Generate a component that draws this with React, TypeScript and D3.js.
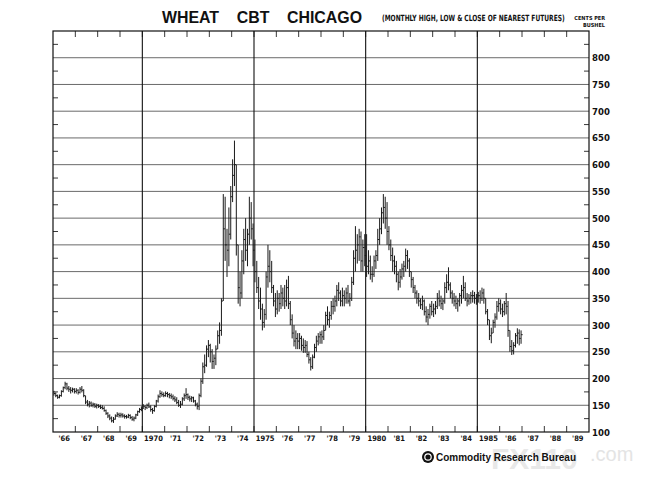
import { useEffect, useRef } from 'react';
import * as d3 from 'd3';

// [high, low, close] per month, cents per bushel
type Bar = [number, number, number];

const wheat1966: Bar[] = [
  [177, 168, 172], [174, 165, 168], [170, 162, 165], [170, 163, 168], [178, 166, 176], [185, 174, 183],
  [194, 180, 190], [192, 178, 182], [186, 175, 180], [184, 172, 178], [183, 174, 180], [182, 172, 176],
];
const wheat1967: Bar[] = [
  [182, 172, 178], [180, 170, 174], [184, 172, 180], [186, 174, 178], [180, 165, 168], [168, 152, 156],
  [160, 148, 152], [158, 146, 154], [157, 147, 150], [155, 146, 152], [154, 145, 148], [153, 144, 150],
];
const wheat1968: Bar[] = [
  [152, 145, 148], [151, 143, 146], [150, 142, 144], [148, 138, 140], [142, 132, 135], [137, 126, 130],
  [133, 122, 126], [129, 118, 121], [128, 117, 124], [133, 123, 130], [137, 128, 133], [136, 127, 131],
];
const wheat1969: Bar[] = [
  [136, 127, 132], [135, 127, 130], [133, 125, 129], [132, 125, 128], [134, 126, 131], [133, 124, 127],
  [130, 121, 124], [129, 120, 126], [134, 124, 132], [140, 130, 138], [145, 136, 142], [148, 139, 144],
];
const wheat1970: Bar[] = [
  [152, 143, 148], [150, 141, 146], [153, 143, 150], [155, 145, 147], [150, 138, 142], [145, 134, 140],
  [150, 138, 148], [160, 146, 158], [170, 155, 166], [178, 164, 172], [176, 166, 170], [174, 165, 168],
];
const wheat1971: Bar[] = [
  [176, 166, 172], [175, 165, 170], [173, 163, 168], [172, 162, 166], [170, 159, 163], [167, 156, 160],
  [165, 152, 155], [160, 147, 150], [158, 145, 152], [165, 150, 162], [172, 158, 168], [182, 162, 170],
];
const wheat1972: Bar[] = [
  [172, 160, 165], [168, 157, 162], [167, 156, 164], [166, 155, 158], [160, 148, 152], [155, 142, 148],
  [172, 141, 168], [200, 165, 195], [230, 190, 222], [245, 210, 225], [262, 222, 255], [272, 240, 262],
];
const wheat1973: Bar[] = [
  [265, 230, 250], [255, 218, 232], [245, 218, 238], [262, 225, 255], [290, 255, 280], [305, 265, 290],
  [350, 280, 345], [545, 345, 480], [540, 420, 450], [480, 390, 440], [520, 410, 470], [560, 460, 540],
];
const wheat1974: Bar[] = [
  [610, 530, 580], [645, 560, 600], [600, 430, 450], [450, 340, 370], [400, 335, 360], [440, 350, 420],
  [480, 395, 460], [500, 420, 440], [480, 410, 470], [540, 450, 500], [530, 460, 480], [490, 410, 440],
];
const wheat1975: Bar[] = [
  [460, 380, 400], [420, 360, 370], [390, 330, 345], [370, 310, 330], [340, 290, 305], [330, 295, 320],
  [400, 310, 390], [450, 370, 410], [440, 380, 400], [420, 360, 370], [375, 335, 345], [360, 315, 330],
];
const wheat1976: Bar[] = [
  [365, 320, 350], [360, 325, 340], [375, 330, 360], [370, 335, 350], [375, 330, 345], [385, 335, 370],
  [392, 330, 340], [345, 300, 310], [320, 275, 285], [300, 260, 270], [290, 255, 275], [285, 255, 270],
];
const wheat1977: Bar[] = [
  [285, 255, 275], [280, 252, 262], [275, 248, 258], [272, 248, 262], [270, 240, 245], [250, 228, 235],
  [240, 215, 222], [245, 218, 240], [265, 238, 258], [280, 250, 270], [285, 262, 278], [288, 265, 282],
];
const wheat1978: Bar[] = [
  [290, 265, 278], [300, 272, 290], [325, 290, 318], [335, 300, 310], [325, 295, 318], [345, 310, 335],
  [350, 320, 335], [355, 325, 345], [375, 335, 365], [380, 345, 360], [365, 335, 345], [370, 335, 355],
];
const wheat1979: Bar[] = [
  [365, 335, 350], [370, 340, 360], [375, 340, 345], [360, 335, 350], [390, 345, 380], [440, 375, 425],
  [485, 400, 440], [470, 415, 450], [480, 420, 465], [475, 400, 420], [460, 400, 445], [470, 410, 430],
];
const wheat1980: Bar[] = [
  [470, 390, 410], [440, 395, 420], [430, 385, 395], [410, 380, 395], [430, 390, 420], [440, 405, 430],
  [480, 420, 460], [500, 450, 480], [520, 470, 510], [545, 490, 520], [540, 480, 500], [530, 450, 475],
];
const wheat1981: Bar[] = [
  [485, 440, 450], [460, 420, 430], [445, 400, 420], [430, 395, 410], [420, 380, 395], [400, 365, 380],
  [405, 370, 390], [415, 385, 405], [420, 390, 410], [443, 400, 430], [440, 405, 420], [425, 390, 400],
];
const wheat1982: Bar[] = [
  [400, 370, 385], [390, 360, 370], [375, 350, 360], [365, 340, 350], [360, 335, 345], [350, 330, 338],
  [355, 328, 345], [348, 318, 325], [335, 305, 315], [330, 300, 320], [340, 312, 335], [345, 318, 325],
];
const wheat1983: Bar[] = [
  [340, 315, 330], [345, 320, 335], [360, 330, 350], [365, 335, 345], [355, 330, 340], [350, 328, 345],
  [380, 340, 370], [395, 360, 380], [408, 365, 375], [380, 350, 360], [365, 340, 350], [360, 335, 345],
];
const wheat1984: Bar[] = [
  [355, 330, 340], [350, 325, 345], [360, 335, 355], [375, 340, 365], [392, 350, 370], [380, 345, 350],
  [360, 335, 345], [358, 338, 350], [362, 340, 355], [365, 342, 355], [362, 340, 350], [358, 338, 345],
];
const wheat1985: Bar[] = [
  [362, 342, 355], [365, 340, 350], [370, 345, 360], [368, 340, 350], [350, 320, 325], [330, 300, 310],
  [310, 272, 280], [295, 266, 285], [310, 285, 305], [322, 295, 315], [345, 310, 335], [350, 325, 340],
];
const wheat1986: Bar[] = [
  [348, 320, 330], [340, 315, 325], [345, 318, 340], [360, 320, 335], [345, 278, 290], [290, 250, 260],
  [272, 244, 252], [268, 245, 262], [285, 258, 280], [294, 265, 285], [292, 262, 275], [290, 265, 282],
];

const seasons = [
  { year: 1966, bars: wheat1966 }, { year: 1967, bars: wheat1967 }, { year: 1968, bars: wheat1968 },
  { year: 1969, bars: wheat1969 }, { year: 1970, bars: wheat1970 }, { year: 1971, bars: wheat1971 },
  { year: 1972, bars: wheat1972 }, { year: 1973, bars: wheat1973 }, { year: 1974, bars: wheat1974 },
  { year: 1975, bars: wheat1975 }, { year: 1976, bars: wheat1976 }, { year: 1977, bars: wheat1977 },
  { year: 1978, bars: wheat1978 }, { year: 1979, bars: wheat1979 }, { year: 1980, bars: wheat1980 },
  { year: 1981, bars: wheat1981 }, { year: 1982, bars: wheat1982 }, { year: 1983, bars: wheat1983 },
  { year: 1984, bars: wheat1984 }, { year: 1985, bars: wheat1985 }, { year: 1986, bars: wheat1986 },
];

const yearLabels = [
  "'66", "'67", "'68", "'69", '1970', "'71", "'72", "'73", "'74", '1975', "'76", "'77",
  "'78", "'79", '1980', "'81", "'82", "'83", "'84", '1985', "'86", "'87", "'88", "'89",
];
const majorYears = [1970, 1975, 1980, 1985];
const priceTicks = [100, 150, 200, 250, 300, 350, 400, 450, 500, 550, 600, 650, 700, 750, 800];

const narrow = '"DejaVu Sans Condensed", "Liberation Sans Narrow", sans-serif';
const sans = '"Liberation Sans", Arial, sans-serif';

export default function App() {
  const svgRef = useRef<SVGSVGElement>(null);

  useEffect(() => {
    if (!svgRef.current) return;
    const width = 669;
    const height = 496;
    const svg = d3.select(svgRef.current);
    svg.selectAll('*').remove();
    svg.attr('width', width).attr('height', height).attr('viewBox', `0 0 ${width} ${height}`);

    const left = 53;
    const right = 589;
    const top = 31;
    const bottom = 432;

    const x = d3.scaleLinear().domain([1966, 1990]).range([left, right]);
    const y = d3.scaleLinear().domain([100, 850]).range([bottom, top]);

    svg.append('rect').attr('width', width).attr('height', height).attr('fill', '#fff');

    // watermark sits behind everything
    svg.append('text')
      .attr('x', 491)
      .attr('y', 469)
      .attr('font-family', sans)
      .attr('font-weight', 'bold')
      .attr('font-size', 30)
      .attr('fill', '#d6d6d6')
      .attr('opacity', 0.55)
      .text('FX110');
    svg.append('text')
      .attr('x', 590)
      .attr('y', 461)
      .attr('font-family', sans)
      .attr('font-size', 20)
      .attr('fill', '#e4e4e4')
      .text('.com');

    // horizontal grid
    svg.append('g')
      .selectAll('line')
      .data(priceTicks.filter((p) => p > 100))
      .join('line')
      .attr('x1', left)
      .attr('x2', right)
      .attr('y1', (d) => y(d))
      .attr('y2', (d) => y(d))
      .attr('stroke', '#444')
      .attr('stroke-width', 0.8);

    // minor ticks at 25s on both sides
    const minor = d3.range(125, 850, 50);
    svg.append('g')
      .selectAll('line')
      .data(minor)
      .join('line')
      .attr('x1', right - 5)
      .attr('x2', right)
      .attr('y1', (d) => y(d))
      .attr('y2', (d) => y(d))
      .attr('stroke', '#222')
      .attr('stroke-width', 0.9);
    svg.append('g')
      .selectAll('line')
      .data(minor)
      .join('line')
      .attr('x1', left)
      .attr('x2', left + 5)
      .attr('y1', (d) => y(d))
      .attr('y2', (d) => y(d))
      .attr('stroke', '#222')
      .attr('stroke-width', 0.9);

    // year ticks top and bottom
    const yearTicks = d3.range(1967, 1990);
    svg.append('g')
      .selectAll('line')
      .data(yearTicks)
      .join('line')
      .attr('x1', (d) => x(d))
      .attr('x2', (d) => x(d))
      .attr('y1', bottom)
      .attr('y2', bottom - 6)
      .attr('stroke', '#222')
      .attr('stroke-width', 0.9);
    svg.append('g')
      .selectAll('line')
      .data(yearTicks)
      .join('line')
      .attr('x1', (d) => x(d))
      .attr('x2', (d) => x(d))
      .attr('y1', top)
      .attr('y2', top + 6)
      .attr('stroke', '#222')
      .attr('stroke-width', 0.9);

    // major year lines
    svg.append('g')
      .selectAll('line')
      .data(majorYears)
      .join('line')
      .attr('x1', (d) => x(d))
      .attr('x2', (d) => x(d))
      .attr('y1', top)
      .attr('y2', bottom)
      .attr('stroke', '#111')
      .attr('stroke-width', 1.1);

    // frame
    svg.append('rect')
      .attr('x', left)
      .attr('y', top)
      .attr('width', right - left)
      .attr('height', bottom - top)
      .attr('fill', 'none')
      .attr('stroke', '#111')
      .attr('stroke-width', 1.2);

    // monthly bars
    const bars = seasons.flatMap((s) =>
      s.bars.map((b, i) => ({ t: s.year + (i + 0.5) / 12, high: b[0], low: b[1], close: b[2] }))
    );
    const g = svg.append('g').attr('stroke', '#1a1a1a').attr('stroke-width', 1);
    g.selectAll('line.hl')
      .data(bars)
      .join('line')
      .attr('class', 'hl')
      .attr('x1', (d) => x(d.t))
      .attr('x2', (d) => x(d.t))
      .attr('y1', (d) => y(d.high))
      .attr('y2', (d) => y(d.low));
    g.selectAll('line.cl')
      .data(bars)
      .join('line')
      .attr('class', 'cl')
      .attr('x1', (d) => x(d.t))
      .attr('x2', (d) => x(d.t) + 1.6)
      .attr('y1', (d) => y(d.close))
      .attr('y2', (d) => y(d.close));

    // price labels on the right
    svg.append('g')
      .selectAll('text')
      .data(priceTicks)
      .join('text')
      .attr('x', right + 3)
      .attr('y', (d) => y(d) + 3.5)
      .attr('font-family', narrow)
      .attr('font-weight', 'bold')
      .attr('font-size', 9.5)
      .attr('fill', '#111')
      .text((d) => d);

    // year labels
    svg.append('g')
      .selectAll('text')
      .data(yearLabels)
      .join('text')
      .attr('x', (_d, i) => x(1966 + i + 0.5))
      .attr('y', bottom + 9)
      .attr('text-anchor', 'middle')
      .attr('font-family', narrow)
      .attr('font-weight', 'bold')
      .attr('font-size', 7.5)
      .attr('fill', '#111')
      .text((d) => d);

    // titles
    svg.append('text')
      .attr('x', 262)
      .attr('y', 23)
      .attr('text-anchor', 'middle')
      .attr('font-family', sans)
      .attr('font-weight', 'bold')
      .attr('font-size', 15.9)
      .attr('fill', '#111')
      .attr('xml:space', 'preserve')
      .text('WHEAT    CBT    CHICAGO');

    // condensed subtitle: squeeze horizontally to the printed width
    const sub = svg.append('g');
    const subText = sub.append('text')
      .attr('x', 0)
      .attr('y', 0)
      .attr('font-family', narrow)
      .attr('font-weight', 'bold')
      .attr('font-size', 8.5)
      .attr('fill', '#111')
      .text('(MONTHLY HIGH, LOW & CLOSE OF NEAREST FUTURES)');
    const natural = (subText.node() as SVGTextElement).getComputedTextLength() || 183;
    sub.attr('transform', `translate(382,21) scale(${183 / natural},1)`);

    svg.append('text')
      .attr('x', 605)
      .attr('y', 20)
      .attr('text-anchor', 'end')
      .attr('font-family', narrow)
      .attr('font-weight', 'bold')
      .attr('font-size', 5.5)
      .attr('fill', '#111')
      .text('CENTS PER');
    svg.append('text')
      .attr('x', 605)
      .attr('y', 27)
      .attr('text-anchor', 'end')
      .attr('font-family', narrow)
      .attr('font-weight', 'bold')
      .attr('font-size', 5.5)
      .attr('fill', '#111')
      .text('BUSHEL');

    // publisher
    svg.append('circle').attr('cx', 428).attr('cy', 457).attr('r', 6).attr('fill', '#111');
    svg.append('circle').attr('cx', 428).attr('cy', 457).attr('r', 3.2).attr('fill', 'none')
      .attr('stroke', '#fff').attr('stroke-width', 1.2);
    svg.append('text')
      .attr('x', 436)
      .attr('y', 461)
      .attr('font-family', sans)
      .attr('font-weight', 'bold')
      .attr('font-size', 11)
      .attr('textLength', 140)
      .attr('lengthAdjust', 'spacingAndGlyphs')
      .attr('fill', '#111')
      .text('Commodity Research Bureau');
  }, []);

  return (
    <div style={{ position: 'absolute', left: 0, top: 0 }}>
      <svg ref={svgRef} style={{ display: 'block' }} />
    </div>
  );
}
